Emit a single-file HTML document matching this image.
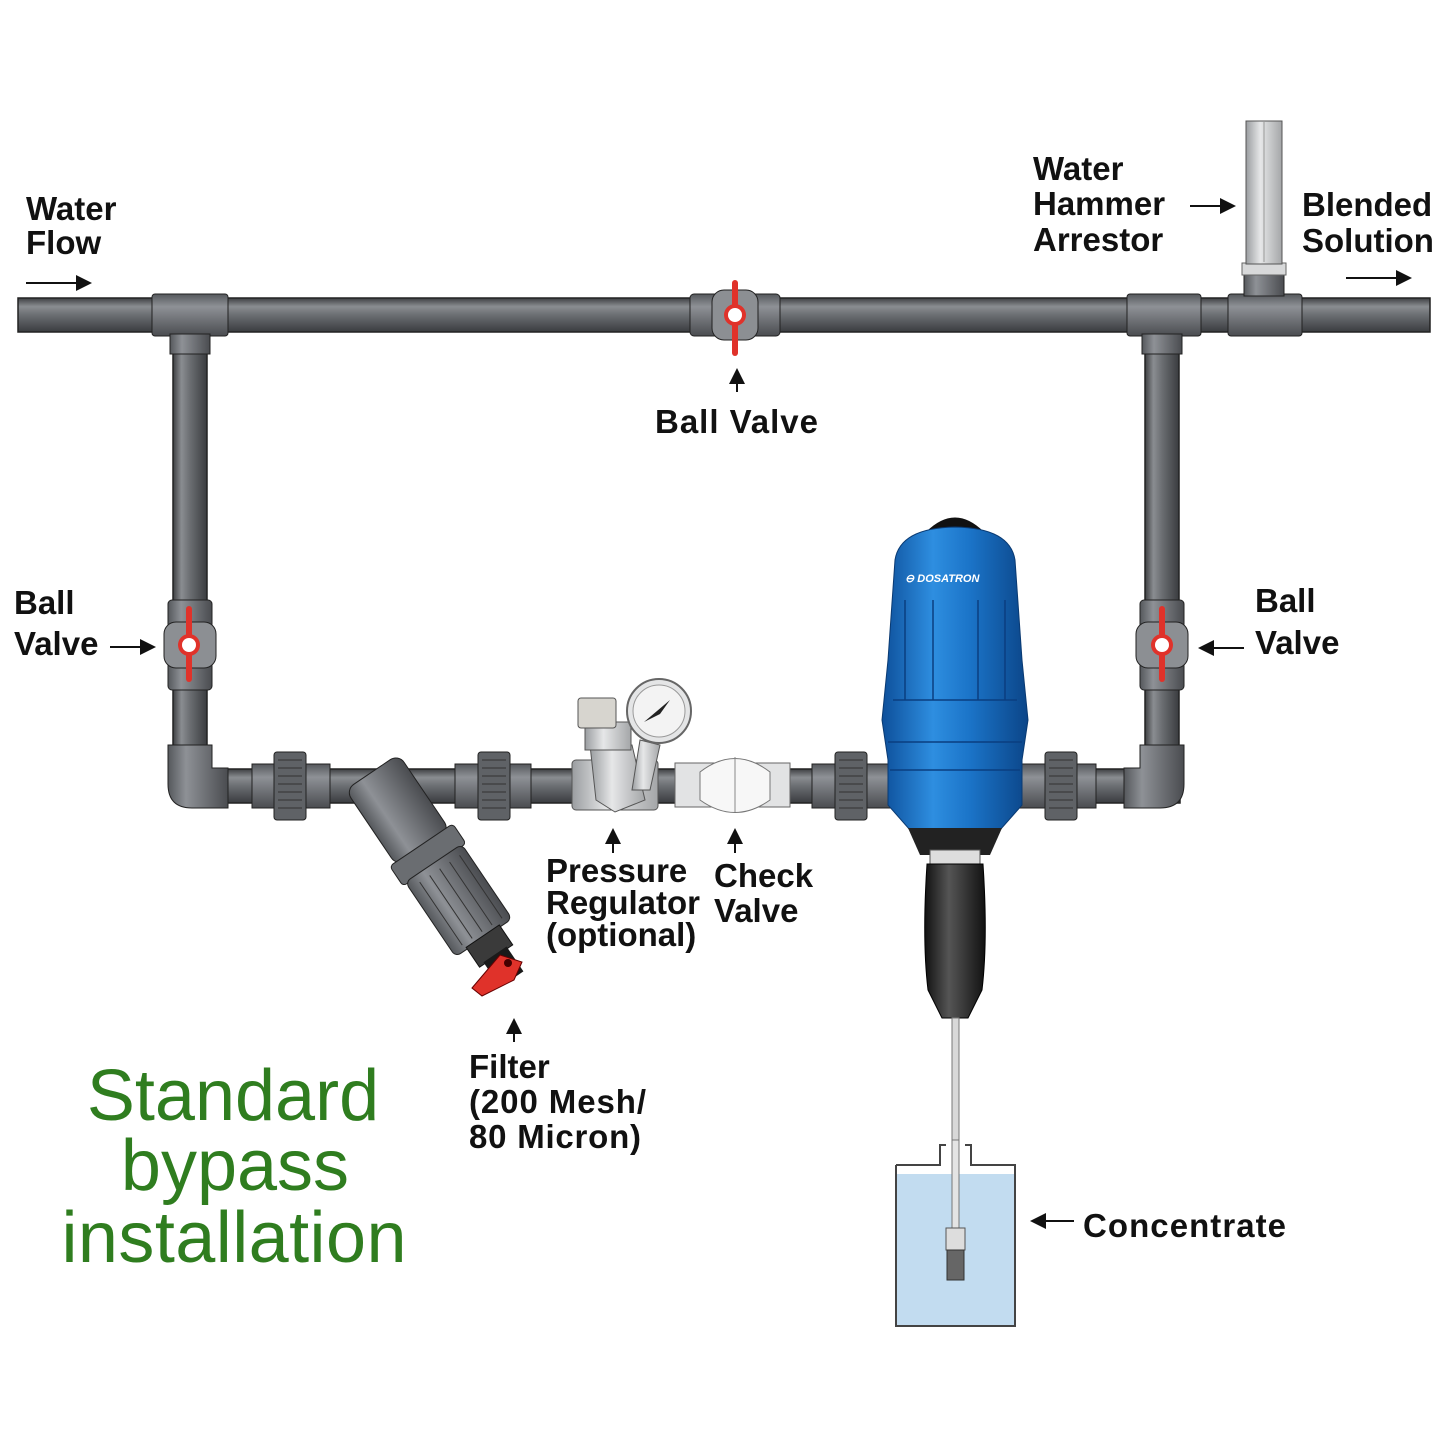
<!DOCTYPE html>
<html><head><meta charset="utf-8"><style>
html,body{margin:0;padding:0;background:#fff;}
svg{display:block;}
.l{font-family:"Liberation Sans",sans-serif;font-weight:bold;font-size:33px;fill:#111;}
.g{font-family:"Liberation Sans",sans-serif;font-size:72px;fill:#2f7d1f;}
</style></head><body>
<svg width="1445" height="1445" viewBox="0 0 1445 1445" xmlns="http://www.w3.org/2000/svg">
<defs>
<linearGradient id="ph" x1="0" y1="0" x2="0" y2="1"><stop offset="0" stop-color="#3d3f42"/><stop offset=".25" stop-color="#8a8d91"/><stop offset=".5" stop-color="#6b6e72"/><stop offset="1" stop-color="#3a3c3f"/></linearGradient>
<linearGradient id="pv" x1="0" y1="0" x2="1" y2="0"><stop offset="0" stop-color="#3d3f42"/><stop offset=".25" stop-color="#8a8d91"/><stop offset=".5" stop-color="#6b6e72"/><stop offset="1" stop-color="#3a3c3f"/></linearGradient>
<linearGradient id="fh" x1="0" y1="0" x2="0" y2="1"><stop offset="0" stop-color="#55585c"/><stop offset=".3" stop-color="#8e9196"/><stop offset="1" stop-color="#4a4c50"/></linearGradient>
<linearGradient id="fv" x1="0" y1="0" x2="1" y2="0"><stop offset="0" stop-color="#55585c"/><stop offset=".3" stop-color="#8e9196"/><stop offset="1" stop-color="#4a4c50"/></linearGradient>
<linearGradient id="blue" x1="0" y1="0" x2="1" y2="0"><stop offset="0" stop-color="#0d4f9a"/><stop offset=".35" stop-color="#2e8ee0"/><stop offset=".6" stop-color="#1b74c8"/><stop offset="1" stop-color="#0b4588"/></linearGradient>
<linearGradient id="blk" x1="0" y1="0" x2="1" y2="0"><stop offset="0" stop-color="#111"/><stop offset=".4" stop-color="#555"/><stop offset="1" stop-color="#111"/></linearGradient>
<linearGradient id="sil" x1="0" y1="0" x2="1" y2="0"><stop offset="0" stop-color="#9a9da0"/><stop offset=".4" stop-color="#e6e7e8"/><stop offset="1" stop-color="#a4a6a8"/></linearGradient>
<marker id="ah" markerWidth="8" markerHeight="8" refX="7" refY="4" orient="auto"><path d="M0,0 L8,4 L0,8 Z" fill="#111"/></marker>
</defs>

<rect x="18" y="298" width="1412" height="34" fill="url(#ph)" stroke="#222" stroke-width="1.5"/>
<rect x="173" y="330" width="34" height="440" fill="url(#pv)" stroke="#222" stroke-width="1.5"/>
<rect x="1145" y="330" width="34" height="440" fill="url(#pv)" stroke="#222" stroke-width="1.5"/>
<rect x="190" y="769" width="990" height="34" fill="url(#ph)" stroke="#222" stroke-width="1.5"/>

<rect x="152" y="294" width="76" height="42" rx="3" fill="url(#fh)" stroke="#222"/>
<rect x="170" y="334" width="40" height="20" fill="url(#fv)" stroke="#222"/>
<rect x="1127" y="294" width="74" height="42" rx="3" fill="url(#fh)" stroke="#222"/>
<rect x="1142" y="334" width="40" height="20" fill="url(#fv)" stroke="#222"/>
<rect x="1228" y="294" width="74" height="42" rx="3" fill="url(#fh)" stroke="#222"/>
<rect x="1244" y="272" width="40" height="24" fill="url(#fv)" stroke="#222"/>
<rect x="1242" y="263" width="44" height="12" fill="#d8d9da" stroke="#666"/>
<rect x="1246" y="121" width="36" height="143" fill="url(#sil)" stroke="#555"/>
<line x1="1264" y1="122" x2="1264" y2="262" stroke="#999"/>

<path d="M168,745 H212 V768 H228 V808 H192 Q168,808 168,784 Z" fill="url(#fv)" stroke="#222"/>
<path d="M1140,745 H1184 V784 Q1184,808 1160,808 H1124 V768 H1140 Z" fill="url(#fv)" stroke="#222"/>

<rect x="690" y="294" width="90" height="42" rx="4" fill="url(#fh)" stroke="#222"/>
<rect x="712" y="290" width="46" height="50" rx="12" fill="#8c8f93" stroke="#222"/>
<rect x="732" y="280" width="6" height="76" rx="3" fill="#e0322a"/>
<circle cx="735" cy="315" r="11" fill="#e0322a"/><circle cx="735" cy="315" r="7" fill="#fff"/>

<rect x="168" y="600" width="44" height="90" rx="4" fill="url(#fv)" stroke="#222"/>
<rect x="164" y="622" width="52" height="46" rx="12" fill="#8c8f93" stroke="#222"/>
<rect x="186" y="606" width="6" height="76" rx="3" fill="#e0322a"/>
<circle cx="189" cy="645" r="11" fill="#e0322a"/><circle cx="189" cy="645" r="7" fill="#fff"/>
<rect x="1140" y="600" width="44" height="90" rx="4" fill="url(#fv)" stroke="#222"/>
<rect x="1136" y="622" width="52" height="46" rx="12" fill="#8c8f93" stroke="#222"/>
<rect x="1159" y="606" width="6" height="76" rx="3" fill="#e0322a"/>
<circle cx="1162" cy="645" r="11" fill="#e0322a"/><circle cx="1162" cy="645" r="7" fill="#fff"/>

<g stroke="#222">
<rect x="252" y="764" width="78" height="44" fill="url(#fh)"/>
<rect x="274" y="752" width="32" height="68" rx="3" fill="#5f6266"/>
<rect x="455" y="764" width="76" height="44" fill="url(#fh)"/>
<rect x="478" y="752" width="32" height="68" rx="3" fill="#5f6266"/>
<rect x="812" y="764" width="78" height="44" fill="url(#fh)"/>
<rect x="835" y="752" width="32" height="68" rx="3" fill="#5f6266"/>
<rect x="1020" y="764" width="76" height="44" fill="url(#fh)"/>
<rect x="1045" y="752" width="32" height="68" rx="3" fill="#5f6266"/>
</g>
<g stroke="#333" stroke-width="1">
<path d="M278,760h24M278,768h24M278,776h24M278,784h24M278,792h24M278,800h24M278,808h24M482,760h24M482,768h24M482,776h24M482,784h24M482,792h24M482,800h24M482,808h24M839,760h24M839,768h24M839,776h24M839,784h24M839,792h24M839,800h24M839,808h24M1049,760h24M1049,768h24M1049,776h24M1049,784h24M1049,792h24M1049,800h24M1049,808h24"/>
</g>

<!-- filter -->
<g transform="translate(372,772) rotate(-34)">
<rect x="-32" y="0" width="64" height="92" rx="10" fill="url(#fv)" stroke="#222"/>
<rect x="-38" y="88" width="76" height="24" rx="4" fill="#6a6d71" stroke="#222"/>
<rect x="-34" y="110" width="68" height="90" rx="6" fill="url(#fv)" stroke="#222"/>
<path d="M-22,118v76M-10,118v76M2,118v76M14,118v76M26,118v76" stroke="#333"/>
<rect x="-20" y="198" width="40" height="24" fill="#3a3a3a" stroke="#111"/>
<rect x="-14" y="220" width="28" height="30" fill="#1a1a1a"/>
</g>
<path d="M472,988 L500,955 L522,962 L514,980 L482,996 Z" fill="#e0322a" stroke="#600"/>
<circle cx="508" cy="963" r="4" fill="#400"/>

<!-- pressure regulator -->
<rect x="572" y="760" width="86" height="50" rx="4" fill="url(#sil)" stroke="#555"/>
<path d="M590,745 H632 L645,800 L615,812 L596,800 Z" fill="url(#sil)" stroke="#555"/>
<rect x="585" y="722" width="46" height="28" fill="url(#sil)" stroke="#555"/>
<rect x="578" y="698" width="38" height="30" rx="3" fill="#d7d5cf" stroke="#555"/>
<path d="M640,740 L660,745 L650,790 L632,790 Z" fill="url(#sil)" stroke="#555"/>
<circle cx="659" cy="711" r="32" fill="#e4e5e6" stroke="#666" stroke-width="2"/>
<circle cx="659" cy="711" r="26" fill="#f3f3f3" stroke="#999"/>
<path d="M644,722 L670,700 L660,714 Z" fill="#222"/>
<rect x="675" y="763" width="115" height="44" fill="#e2e3e4" stroke="#666"/>
<path d="M700,772 Q735,745 770,772 V800 Q735,825 700,800 Z" fill="#f7f7f7" stroke="#777"/>
<line x1="735" y1="757" x2="735" y2="812" stroke="#888"/>

<!-- dosatron -->
<path d="M926,532 Q955,503 984,532 Z" fill="#111"/>
<path d="M895,560 Q900,528 955,527 Q1010,528 1015,560 L1022,660 L1028,720 L1022,760 L1022,805 L1000,830 H910 L888,805 L888,760 L882,720 L888,660 Z" fill="url(#blue)" stroke="#0a3a72"/>
<g stroke="#0a3e80" stroke-width="1.5" fill="none">
<path d="M905,600 V700 M933,600 V700 M978,600 V700 M1005,600 V700 M893,700 H1017 M888,742 H1022 M890,770 H1020"/>
</g>
<text x="905" y="582" font-family="Liberation Sans,sans-serif" font-size="11" font-weight="bold" font-style="italic" fill="#fff">⊖ DOSATRON</text>
<path d="M908,828 H1002 L990,855 H920 Z" fill="#222"/>
<rect x="930" y="850" width="50" height="14" fill="#ddd" stroke="#555"/>
<path d="M927,864 H983 Q988,940 982,990 L968,1018 H942 L928,990 Q922,940 927,864 Z" fill="url(#blk)" stroke="#000"/>
<rect x="952" y="1018" width="7" height="130" fill="#d8d8d8" stroke="#777"/>

<!-- container -->
<rect x="897" y="1174" width="117" height="151" fill="#c2dcf0"/>
<path d="M896,1165 H940 V1145 H946" fill="none" stroke="#444" stroke-width="2"/>
<path d="M965,1145 H971 V1165 H1015 V1326 H896 V1165" fill="none" stroke="#444" stroke-width="2"/>
<rect x="952" y="1140" width="7" height="95" fill="#e4e4e4" stroke="#777"/>
<rect x="946" y="1228" width="19" height="22" fill="#ddd" stroke="#555"/>
<rect x="947" y="1250" width="17" height="30" fill="#666" stroke="#333"/>

<!-- labels -->
<text class="l" x="26" y="220">Water</text>
<text class="l" x="26" y="254">Flow</text>
<line x1="26" y1="283" x2="90" y2="283" stroke="#111" stroke-width="2" marker-end="url(#ah)"/>
<text class="l" x="1033" y="180">Water</text>
<text class="l" x="1033" y="215">Hammer</text>
<text class="l" x="1033" y="251">Arrestor</text>
<line x1="1190" y1="206" x2="1234" y2="206" stroke="#111" stroke-width="2" marker-end="url(#ah)"/>
<text class="l" x="1302" y="216">Blended</text>
<text class="l" x="1302" y="252">Solution</text>
<line x1="1346" y1="278" x2="1410" y2="278" stroke="#111" stroke-width="2" marker-end="url(#ah)"/>
<line x1="737" y1="392" x2="737" y2="370" stroke="#111" stroke-width="2" marker-end="url(#ah)"/>
<text class="l" x="655" y="433" textLength="163">Ball Valve</text>
<text class="l" x="14" y="614">Ball</text>
<text class="l" x="14" y="655">Valve</text>
<line x1="110" y1="647" x2="154" y2="647" stroke="#111" stroke-width="2" marker-end="url(#ah)"/>
<text class="l" x="1255" y="612">Ball</text>
<text class="l" x="1255" y="654">Valve</text>
<line x1="1244" y1="648" x2="1200" y2="648" stroke="#111" stroke-width="2" marker-end="url(#ah)"/>
<line x1="613" y1="853" x2="613" y2="830" stroke="#111" stroke-width="2" marker-end="url(#ah)"/>
<text class="l" x="546" y="882">Pressure</text>
<text class="l" x="546" y="914">Regulator</text>
<text class="l" x="546" y="946">(optional)</text>
<line x1="735" y1="853" x2="735" y2="830" stroke="#111" stroke-width="2" marker-end="url(#ah)"/>
<text class="l" x="714" y="887">Check</text>
<text class="l" x="714" y="922">Valve</text>
<line x1="514" y1="1042" x2="514" y2="1020" stroke="#111" stroke-width="2" marker-end="url(#ah)"/>
<text class="l" x="469" y="1078">Filter</text>
<text class="l" x="469" y="1113" textLength="177">(200 Mesh/</text>
<text class="l" x="469" y="1148" textLength="172">80 Micron)</text>
<line x1="1074" y1="1221" x2="1032" y2="1221" stroke="#111" stroke-width="2" marker-end="url(#ah)"/>
<text class="l" x="1083" y="1237" textLength="203">Concentrate</text>

<text class="g" x="233" y="1120" text-anchor="middle">Standard</text>
<text class="g" x="235" y="1190" text-anchor="middle">bypass</text>
<text class="g" x="234" y="1262" text-anchor="middle" textLength="345">installation</text>
</svg>
</body></html>
